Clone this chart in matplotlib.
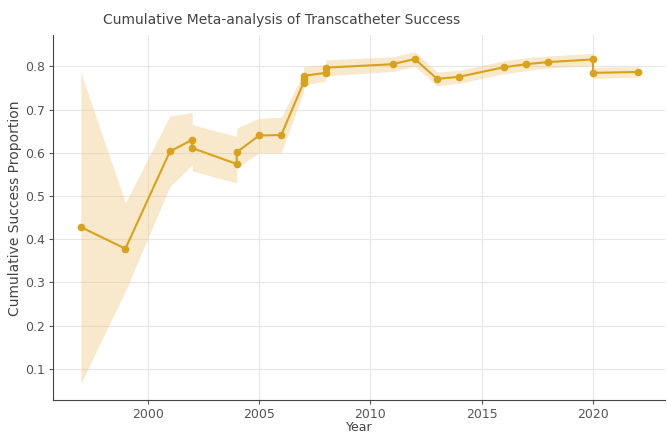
import numpy as np
import matplotlib
matplotlib.use("Agg")
import matplotlib.pyplot as plt

# cumulative pooled proportion after each study, with 95% CI
years = [1997, 1999, 2001, 2002, 2002, 2004, 2004, 2005, 2006, 2007, 2007, 2007,
         2008, 2008, 2011, 2012, 2013, 2014, 2016, 2017, 2018, 2020, 2020, 2022]
cum_prop = [0.428, 0.378, 0.603, 0.630, 0.611, 0.574, 0.601, 0.640, 0.641, 0.762, 0.771, 0.778,
            0.785, 0.797, 0.805, 0.817, 0.771, 0.776, 0.798, 0.805, 0.810, 0.816, 0.785, 0.787]
ci_low = [0.066, 0.280, 0.522, 0.572, 0.558, 0.530, 0.565, 0.600, 0.600, 0.740, 0.750, 0.757,
          0.766, 0.778, 0.788, 0.800, 0.755, 0.761, 0.783, 0.790, 0.796, 0.802, 0.772, 0.775]
ci_high = [0.786, 0.484, 0.685, 0.693, 0.665, 0.638, 0.657, 0.680, 0.682, 0.784, 0.792, 0.799,
           0.804, 0.815, 0.822, 0.834, 0.787, 0.791, 0.813, 0.820, 0.824, 0.830, 0.798, 0.799]

plt.rcParams["font.family"] = "DejaVu Sans"

fig = plt.figure(figsize=(6.67, 4.33), dpi=100)
ax = fig.add_axes([0.0795, 0.076, 0.918, 0.843])

ax.fill_between(years, ci_low, ci_high, color="#f0c987", alpha=0.42, linewidth=0)
ax.plot(years, cum_prop, marker="o", color="#d9a21b", linewidth=1.5, markersize=4.5)

ax.set_title("Cumulative Meta-analysis of Transcatheter Success", fontsize=10,
             color="#444444", x=0.373, pad=8)
ax.set_xlabel("Year", fontsize=9, color="#444444", labelpad=0)
ax.set_ylabel("Cumulative Success Proportion", fontsize=10, color="#444444")
ax.yaxis.set_label_coords(-0.05, 0.526)

ax.grid(True, color="#e6e6e6", linewidth=0.8)
ax.set_axisbelow(True)
ax.spines["top"].set_visible(False)
ax.spines["right"].set_visible(False)
for s in ("left", "bottom"):
    ax.spines[s].set_color("#444444")
ax.tick_params(labelsize=9, colors="#555555", length=3, pad=2.5)

plt.savefig("out.png", dpi=100)
